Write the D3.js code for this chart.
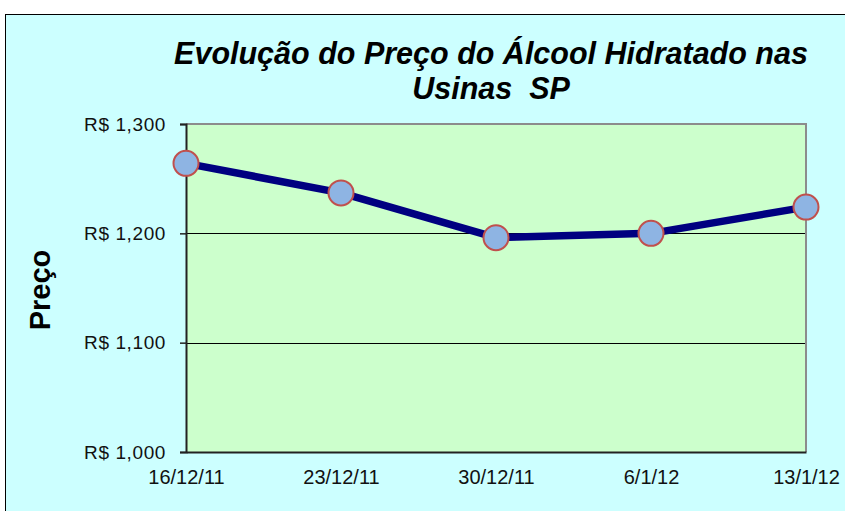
<!DOCTYPE html>
<html>
<head>
<meta charset="utf-8">
<script src="https://cdn.jsdelivr.net/npm/d3@7/dist/d3.min.js"></script>
<style>
  html, body { margin: 0; padding: 0; background: #ffffff; }
  svg { display: block; }
  text { font-family: "Liberation Sans", Arial, sans-serif; }
</style>
</head>
<body>
<svg id="chart" width="845" height="511"></svg>
<script>
const categories = ["16/12/11", "23/12/11", "30/12/11", "6/1/12", "13/1/12"];
const prices = [1264, 1237, 1196, 1200, 1224];
const yTicks = [1000, 1100, 1200, 1300];
const titleLines = ["Evolução do Preço do Álcool Hidratado nas", "Usinas  SP"];
const yAxisTitle = "Preço";

const svg = d3.select("#chart");
const W = 845, H = 511;

// outer chart area
svg.append("rect").attr("x", 0).attr("y", 0).attr("width", W).attr("height", H).attr("fill", "#ffffff");
svg.append("rect").attr("x", 5.5).attr("y", 14.5).attr("width", 900).attr("height", 600)
  .attr("fill", "#ccffff").attr("stroke", "#000").attr("stroke-width", 1);

const plot = { left: 186, top: 124, right: 806, bottom: 452 };

const x = d3.scalePoint().domain(categories).range([plot.left, plot.right]).padding(0);
const y = d3.scaleLinear().domain([1000, 1300]).range([plot.bottom, plot.top]);

// plot background
svg.append("rect").attr("x", plot.left).attr("y", plot.top)
  .attr("width", plot.right - plot.left).attr("height", plot.bottom - plot.top)
  .attr("fill", "#ccffcc");

// gridlines
svg.append("g").selectAll("line").data(yTicks.filter(d => d > 1000 && d < 1300)).join("line")
  .attr("x1", plot.left).attr("x2", plot.right)
  .attr("y1", d => Math.round(y(d)) + 0.5).attr("y2", d => Math.round(y(d)) + 0.5)
  .attr("stroke", "#000").attr("stroke-width", 1);

// plot border (top & right gray)
svg.append("path")
  .attr("d", `M${plot.left},${plot.top} H${plot.right} V${plot.bottom}`)
  .attr("fill", "none").attr("stroke", "#8c8c8c").attr("stroke-width", 2);

// y axis
const yAxis = d3.axisLeft(y).tickValues(yTicks).tickSize(6).tickPadding(14)
  .tickFormat(d => "R$ " + d3.format(",")(d));
const gy = svg.append("g").attr("transform", `translate(${plot.left},0)`).call(yAxis);
gy.select(".domain").attr("stroke", "#222").attr("stroke-width", 2);
gy.selectAll(".tick line").attr("stroke", "#222").attr("stroke-width", 1.5);
gy.selectAll(".tick text").attr("font-size", 19).attr("fill", "#111")
  .attr("letter-spacing", 0.6).attr("dy", "0.33em");

// x axis
const xAxis = d3.axisBottom(x).tickSize(0).tickPadding(18);
const gx = svg.append("g").attr("transform", `translate(0,${plot.bottom})`).call(xAxis);
gx.select(".domain").attr("stroke", "#222").attr("stroke-width", 2);
gx.selectAll(".tick text").attr("font-size", 20).attr("fill", "#111").attr("dy", "0.71em");

// line
const line = d3.line().x((d, i) => x(categories[i])).y(d => y(d));
svg.append("path").datum(prices).attr("d", line)
  .attr("fill", "none").attr("stroke", "#000080").attr("stroke-width", 7.5)
  .attr("stroke-linejoin", "round");

// markers
svg.append("g").selectAll("circle").data(prices).join("circle")
  .attr("cx", (d, i) => x(categories[i])).attr("cy", d => y(d)).attr("r", 12.5)
  .attr("fill", "#8eb4e3").attr("stroke", "#c0504d").attr("stroke-width", 2);

// title
svg.append("g").selectAll("text").data(titleLines).join("text")
  .attr("x", 491).attr("y", (d, i) => 64 + i * 35)
  .attr("text-anchor", "middle").attr("font-size", 30.5)
  .attr("font-weight", "bold").attr("font-style", "italic").attr("fill", "#000")
  .style("white-space", "pre")
  .text(d => d);

// y axis title
svg.append("text")
  .attr("transform", "translate(50,290) rotate(-90)")
  .attr("text-anchor", "middle").attr("font-size", 29).attr("font-weight", "bold")
  .attr("fill", "#000").text(yAxisTitle);
</script>
</body>
</html>
